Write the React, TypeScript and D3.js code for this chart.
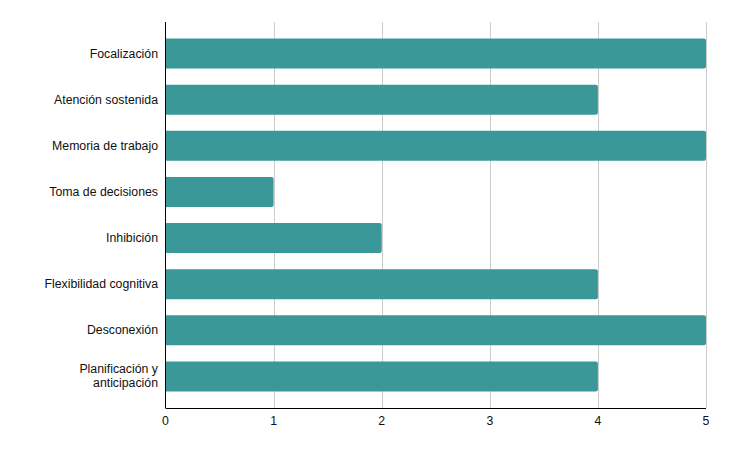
import React from "react";
import * as d3 from "d3";

const categories = [
  "Focalización",
  "Atención sostenida",
  "Memoria de trabajo",
  "Toma de decisiones",
  "Inhibición",
  "Flexibilidad cognitiva",
  "Desconexión",
  "Planificación y\nanticipación",
];
const values = [5, 4, 5, 1, 2, 4, 5, 4];
const ticks = [0, 1, 2, 3, 4, 5];

export default function App() {
  const W = 729, H = 451;
  const left = 165.5, right = 706, top = 22, bottom = 408;
  const x = d3.scaleLinear().domain([0, 5]).range([left, right]);
  const y = d3.scaleBand<string>().domain(categories).range([top, bottom]).paddingInner(0.35).paddingOuter(0.358);
  const font = "Liberation Sans, Arial, sans-serif";
  const r = 2;
  return (
    <svg width={W} height={H} style={{ position: "absolute", left: 0, top: 0, background: "#fff" }}>
      {ticks.slice(1).map((t) => (
        <line key={t} x1={Math.round(x(t)) + 0.5} x2={Math.round(x(t)) + 0.5} y1={top} y2={bottom} stroke="#cccccc" strokeWidth={1} />
      ))}
      {categories.map((c, i) => {
        const y0 = y(c)!;
        const h = y.bandwidth();
        const x1 = x(values[i]);
        const x0 = x(0);
        const path = `M${x0},${y0} H${x1 - r} Q${x1},${y0} ${x1},${y0 + r} V${y0 + h - r} Q${x1},${y0 + h} ${x1 - r},${y0 + h} H${x0} Z`;
        return <path key={c} d={path} fill="#3a9898" />;
      })}
      <line x1={left} x2={left} y1={top} y2={bottom} stroke="#000" strokeWidth={1} />
      <line x1={left} x2={right} y1={bottom + 0.5} y2={bottom + 0.5} stroke="#000" strokeWidth={1} />
      {categories.map((c) => {
        const lines = c.split("\n");
        const cy = y(c)! + y.bandwidth() / 2;
        return (
          <text key={c} x={158} y={cy - ((lines.length - 1) * 14) / 2} textAnchor="end" dominantBaseline="central" fontFamily={font} fontSize={12.3} fill="#111">
            {lines.map((l, j) => (
              <tspan key={j} x={158} dy={j === 0 ? 0 : 14}>{l}</tspan>
            ))}
          </text>
        );
      })}
      {ticks.map((t) => (
        <text key={t} x={x(t)} y={424.5} textAnchor="middle" fontFamily={font} fontSize={12.3} fill="#111">{t}</text>
      ))}
    </svg>
  );
}
